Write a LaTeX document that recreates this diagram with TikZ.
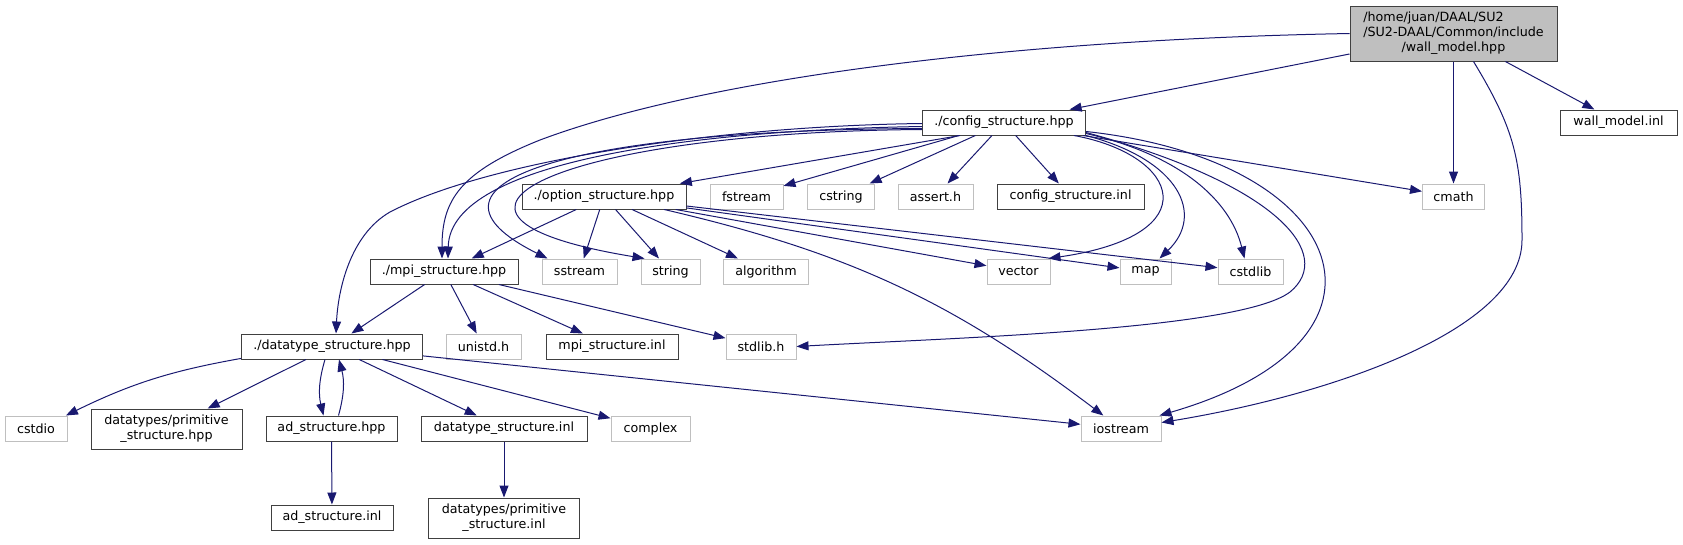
\documentclass[tikz,border=0pt]{standalone}
\usepackage{fontspec}
\setmainfont{DejaVu Sans}
\usetikzlibrary{arrows.meta}
\definecolor{incblue}{RGB}{25,25,112}
\definecolor{sysgrey}{RGB}{191,191,191}
\definecolor{boxgrey}{RGB}{64,64,64}

\begin{document}
\begin{tikzpicture}[x=1pt,y=-1pt,every node/.style={font=\fontsize{12.7}{15}\selectfont},
  file/.style={draw=boxgrey,fill=white,line width=1pt,inner sep=0pt,minimum height=25pt},
  sysfile/.style={file,draw=sysgrey},
  rootfile/.style={file,fill=sysgrey},
  inc/.style={incblue,line width=1pt,-{Triangle[length=12pt,width=9pt]}}]
  \useasboundingbox (0,0) rectangle (1683,544);
  % top two rows
  \node[rootfile,minimum width=207pt,minimum height=55pt] (wm) at (1453.5,33.5)
    {\begin{tabular}{@{}l@{}}/home/juan/DAAL/SU2\\/SU2-DAAL/Common/include\\\multicolumn{1}{@{}c@{}}{/wall\_model.hpp}\end{tabular}};
  \node[file,minimum width=117pt] (inl) at (1618.5,122.5) {wall\_model.inl};
  \node[file,minimum width=163pt] (cfg) at (1004,122.5) {./config\_structure.hpp};
  \node[file,minimum width=164pt] (opt) at (604,196.5) {./option\_structure.hpp};
  \node[sysfile,minimum width=73pt] (fstream) at (746.5,196.5) {fstream};
  \node[sysfile,minimum width=67pt] (cstring) at (841,196.5) {cstring};
  \node[sysfile,minimum width=75pt] (assert) at (935.5,196.5) {assert.h};
  \node[file,minimum width=147pt] (cfginl) at (1070.5,196.5) {config\_structure.inl};
  \node[sysfile,minimum width=62pt] (cmath) at (1453.5,196.5) {cmath};
  % middle rows
  \node[file,minimum width=148pt] (mpi) at (444,271.5) {./mpi\_structure.hpp};
  \node[sysfile,minimum width=75pt] (sstr) at (579.5,271.5) {sstream};
  \node[sysfile,minimum width=59pt] (str) at (670.5,271.5) {string};
  \node[sysfile,minimum width=85pt] (alg) at (766,271.5) {algorithm};
  \node[sysfile,minimum width=63pt] (vector) at (1018.5,271.5) {vector};
  \node[sysfile,minimum width=51pt] (map) at (1145.5,271.5) {map};
  \node[sysfile,minimum width=65pt] (cstdlib) at (1250.5,271.5) {cstdlib};
  \node[file,minimum width=181pt] (dts) at (332,346.5) {./datatype\_structure.hpp};
  \node[sysfile,minimum width=75pt] (unistd) at (483.5,346.5) {unistd.h};
  \node[file,minimum width=132pt] (mpiinl) at (612,346.5) {mpi\_structure.inl};
  \node[sysfile,minimum width=70pt] (stdlib) at (761,346.5) {stdlib.h};
  % bottom rows
  \node[sysfile,minimum width=62pt] (cstdio) at (36,428.5) {cstdio};
  \node[file,minimum width=151pt,minimum height=40pt,align=center] (prim) at (166.5,429) {datatypes/primitive\\\_structure.hpp};
  \node[file,minimum width=131pt] (adh) at (331.5,428.5) {ad\_structure.hpp};
  \node[file,minimum width=166pt] (dtinl) at (504,428.5) {datatype\_structure.inl};
  \node[sysfile,minimum width=79pt] (complex) at (650.5,428.5) {complex};
  \node[sysfile,minimum width=80pt] (iostream) at (1121,428.5) {iostream};
  \node[file,minimum width=122pt] (adinl) at (332,517.5) {ad\_structure.inl};
  \node[file,minimum width=151pt,minimum height=40pt,align=center] (priminl) at (504,518) {datatypes/primitive\\\_structure.inl};
  % straight includes
  \foreach \p/\q in {wm/cfg,wm/cmath,wm/inl,cfg/fstream,cfg/cstring,cfg/assert,cfg/cfginl,cfg/cmath,
    opt/mpi,opt/sstr,opt/str,opt/alg,opt/vector,opt/map,opt/cstdlib,mpi/dts,mpi/unistd,mpi/mpiinl,mpi/stdlib,
    dts/prim,dts/dtinl,dts/complex,dts/iostream,adh/adinl,dtinl/priminl}
    \draw[inc] (\p) -- (\q);
  \draw[inc] ([xshift=-44pt]cfg.south) -- (opt);
  \draw[inc] (dts) to[bend right=8] (cstdio);
  \draw[inc] ([xshift=-7pt]dts.south) to[bend right=15] ([xshift=-8pt]adh.north);
  \draw[inc] ([xshift=7pt]adh.north) to[bend right=15] ([xshift=7pt]dts.south);
  \draw[inc] (opt) to[bend left=12] (iostream);
  % curved includes
  \draw[inc] (wm.west) .. controls (1000,40) and (700,80) .. (540,140) .. controls (460,172) and (442,200) .. ([xshift=-2pt]mpi.north);
  \draw[inc] ([xshift=20pt]wm.south) .. controls (1515,130) and (1522,160) .. (1522,240) .. controls (1522,330) and (1330,395) .. ([yshift=6pt]iostream.east);
  \draw[inc] ([yshift=-1pt]cfg.west) .. controls (720,126) and (490,160) .. (390,212) .. controls (350,235) and (338,290) .. ([xshift=4pt]dts.north);
  \draw[inc] ([yshift=-4pt]cfg.west) .. controls (700,130) and (450,160) .. ([xshift=4pt]mpi.north);
  \draw[inc] ([yshift=-6pt]cfg.west) .. controls (560,130) and (400,185) .. ([xshift=6pt]sstr.north west);
  \draw[inc] ([yshift=-7pt]cfg.west) .. controls (560,132) and (380,215) .. ([xshift=4pt]str.north west);
  \draw[inc] ([xshift=-12pt]cfg.south east) .. controls (1180,155) and (1210,235) .. ([xshift=-2pt]vector.north east);
  \draw[inc] (cfg.south east) .. controls (1180,160) and (1205,215) .. ([xshift=14pt]map.north);
  \draw[inc] ([yshift=2pt]cfg.south east) .. controls (1180,155) and (1230,200) .. ([xshift=-6pt]cstdlib.north);
  \draw[inc] ([yshift=3pt]cfg.south east) .. controls (1280,185) and (1335,255) .. (1290,292) .. controls (1240,330) and (950,338) .. (stdlib.east);
  \draw[inc] ([yshift=4pt]cfg.south east) .. controls (1350,160) and (1420,340) .. ([xshift=-2pt]iostream.north east);
\end{tikzpicture}
\end{document}
